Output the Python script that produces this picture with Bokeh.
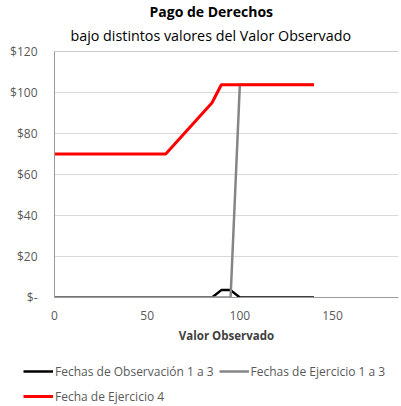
from bokeh.plotting import figure
from bokeh.models import (Range1d, Legend, LegendItem, Title, FixedTicker,
                          CustomJSTickFormatter, Span)
from bokeh.embed import file_html
from bokeh.resources import INLINE

# ---- data ----
valor_observado = [0, 5, 10, 15, 20, 25, 30, 35, 40, 45, 50, 55, 60, 65, 70,
                   75, 80, 85, 90, 95, 100, 105, 110, 115, 120, 125, 130, 135, 140]
obs_1a3 = [0, 0, 0, 0, 0, 0, 0, 0, 0, 0, 0, 0, 0, 0, 0,
           0, 0, 0, 3.6, 3.6, 0, 0, 0, 0, 0, 0, 0, 0, 0]
ejer_1a3 = [0, 0, 0, 0, 0, 0, 0, 0, 0, 0, 0, 0, 0, 0, 0,
            0, 0, 0, 0, 0, 103.8, 103.8, 103.8, 103.8, 103.8, 103.8, 103.8, 103.8, 103.8]
ejer_4 = [70, 70, 70, 70, 70, 70, 70, 70, 70, 70, 70, 70, 70, 75, 80,
          85, 90, 95, 103.8, 103.8, 103.8, 103.8, 103.8, 103.8, 103.8, 103.8, 103.8, 103.8, 103.8]
series_labels = ["Fechas de Observación 1 a 3", "Fechas de Ejercicio 1 a 3", "Fecha de Ejercicio 4"]
series_colors = ["black", "#858585", "#ff0000"]
series_widths = [2.5, 2.5, 3]
x_ticks = [0, 50, 100, 150]
y_ticks = [0, 20, 40, 60, 80, 100, 120]

FONT = "Open Sans"
GREY_TXT = "#595959"
AXIS_COL = "#9a9a9a"

p = figure(width=401, height=350, output_backend="svg", toolbar_location=None,
           title=None, x_range=Range1d(0, 185.6), y_range=Range1d(y_ticks[0], y_ticks[-1]),
           min_border_left=54, min_border_right=3, min_border_top=51, min_border_bottom=53)
p.outline_line_color = None
p.background_fill_color = "white"
p.border_fill_color = "white"

# grid
p.xgrid.grid_line_color = None
p.ygrid.grid_line_color = "#d9d9d9"
p.ygrid.ticker = FixedTicker(ticks=y_ticks)
top_line = Span(location=y_ticks[-1], dimension="width", line_color=AXIS_COL, line_width=1)
p.add_layout(top_line)

# axes
p.xaxis.ticker = FixedTicker(ticks=x_ticks)
p.yaxis.ticker = FixedTicker(ticks=y_ticks)
p.yaxis.formatter = CustomJSTickFormatter(code="return tick == 0 ? '$-' : '$' + tick;")
for ax in (p.xaxis[0], p.yaxis[0]):
    ax.axis_line_color = AXIS_COL
    ax.major_tick_line_color = None
    ax.minor_tick_line_color = None
    ax.major_label_text_font = FONT
    ax.major_label_text_font_size = "12px"
    ax.major_label_text_color = GREY_TXT
p.yaxis.major_label_standoff = 11
p.xaxis.major_label_standoff = 7
p.xaxis.axis_label = "Valor Observado"
p.xaxis.axis_label_text_font = FONT
p.xaxis.axis_label_text_font_size = "11.5px"
p.xaxis.axis_label_text_font_style = "bold"
p.xaxis.axis_label_text_color = "#404040"
p.xaxis.axis_label_standoff = 5

# lines
series = [obs_1a3, ejer_1a3, ejer_4]
for ys, c, w in zip(series, series_colors, series_widths):
    p.line(valor_observado, ys, line_color=c, line_width=w)

# titles (subtitle first -> closer to plot)
p.add_layout(Title(text="bajo distintos valores del Valor Observado", align="left", offset=16,
                   text_font=FONT, text_font_size="14.3px", text_font_style="normal",
                   text_color="black", standoff=10, vertical_align="top"), "above")
p.add_layout(Title(text="Pago de Derechos", align="left", offset=95,
                   text_font=FONT, text_font_size="14px", text_font_style="bold",
                   text_color="black", standoff=-4, vertical_align="top"), "above")

# legend strip below the chart (separate root so its frame starts at the left edge)
lf = figure(width=401, height=56, output_backend="svg", toolbar_location=None,
            title=None, x_axis_location=None, y_axis_location=None,
            x_range=Range1d(-2, -1), y_range=Range1d(-2, -1),
            min_border_left=0, min_border_right=0, min_border_top=0, min_border_bottom=0)
lf.outline_line_color = None
lf.grid.visible = False
legend_renderers = [lf.line(valor_observado, ys, line_color=c, line_width=w)
                    for ys, c, w in zip(series, series_colors, series_widths)]
legend = Legend(items=[LegendItem(label=lab, renderers=[r])
                       for lab, r in zip(series_labels, legend_renderers)],
                orientation="horizontal", ncols=2, location=(23, 0))
legend.border_line_color = None
legend.background_fill_alpha = 0
legend.label_text_font = FONT
legend.label_text_font_size = "12px"
legend.label_text_color = GREY_TXT
legend.glyph_width = 30
legend.glyph_height = 20
legend.label_height = 20
legend.label_standoff = 2
legend.spacing = 5
legend.padding = 0
legend.margin = 0
lf.add_layout(legend, "center")

open("out.html", "w").write(file_html([p, lf], INLINE))
